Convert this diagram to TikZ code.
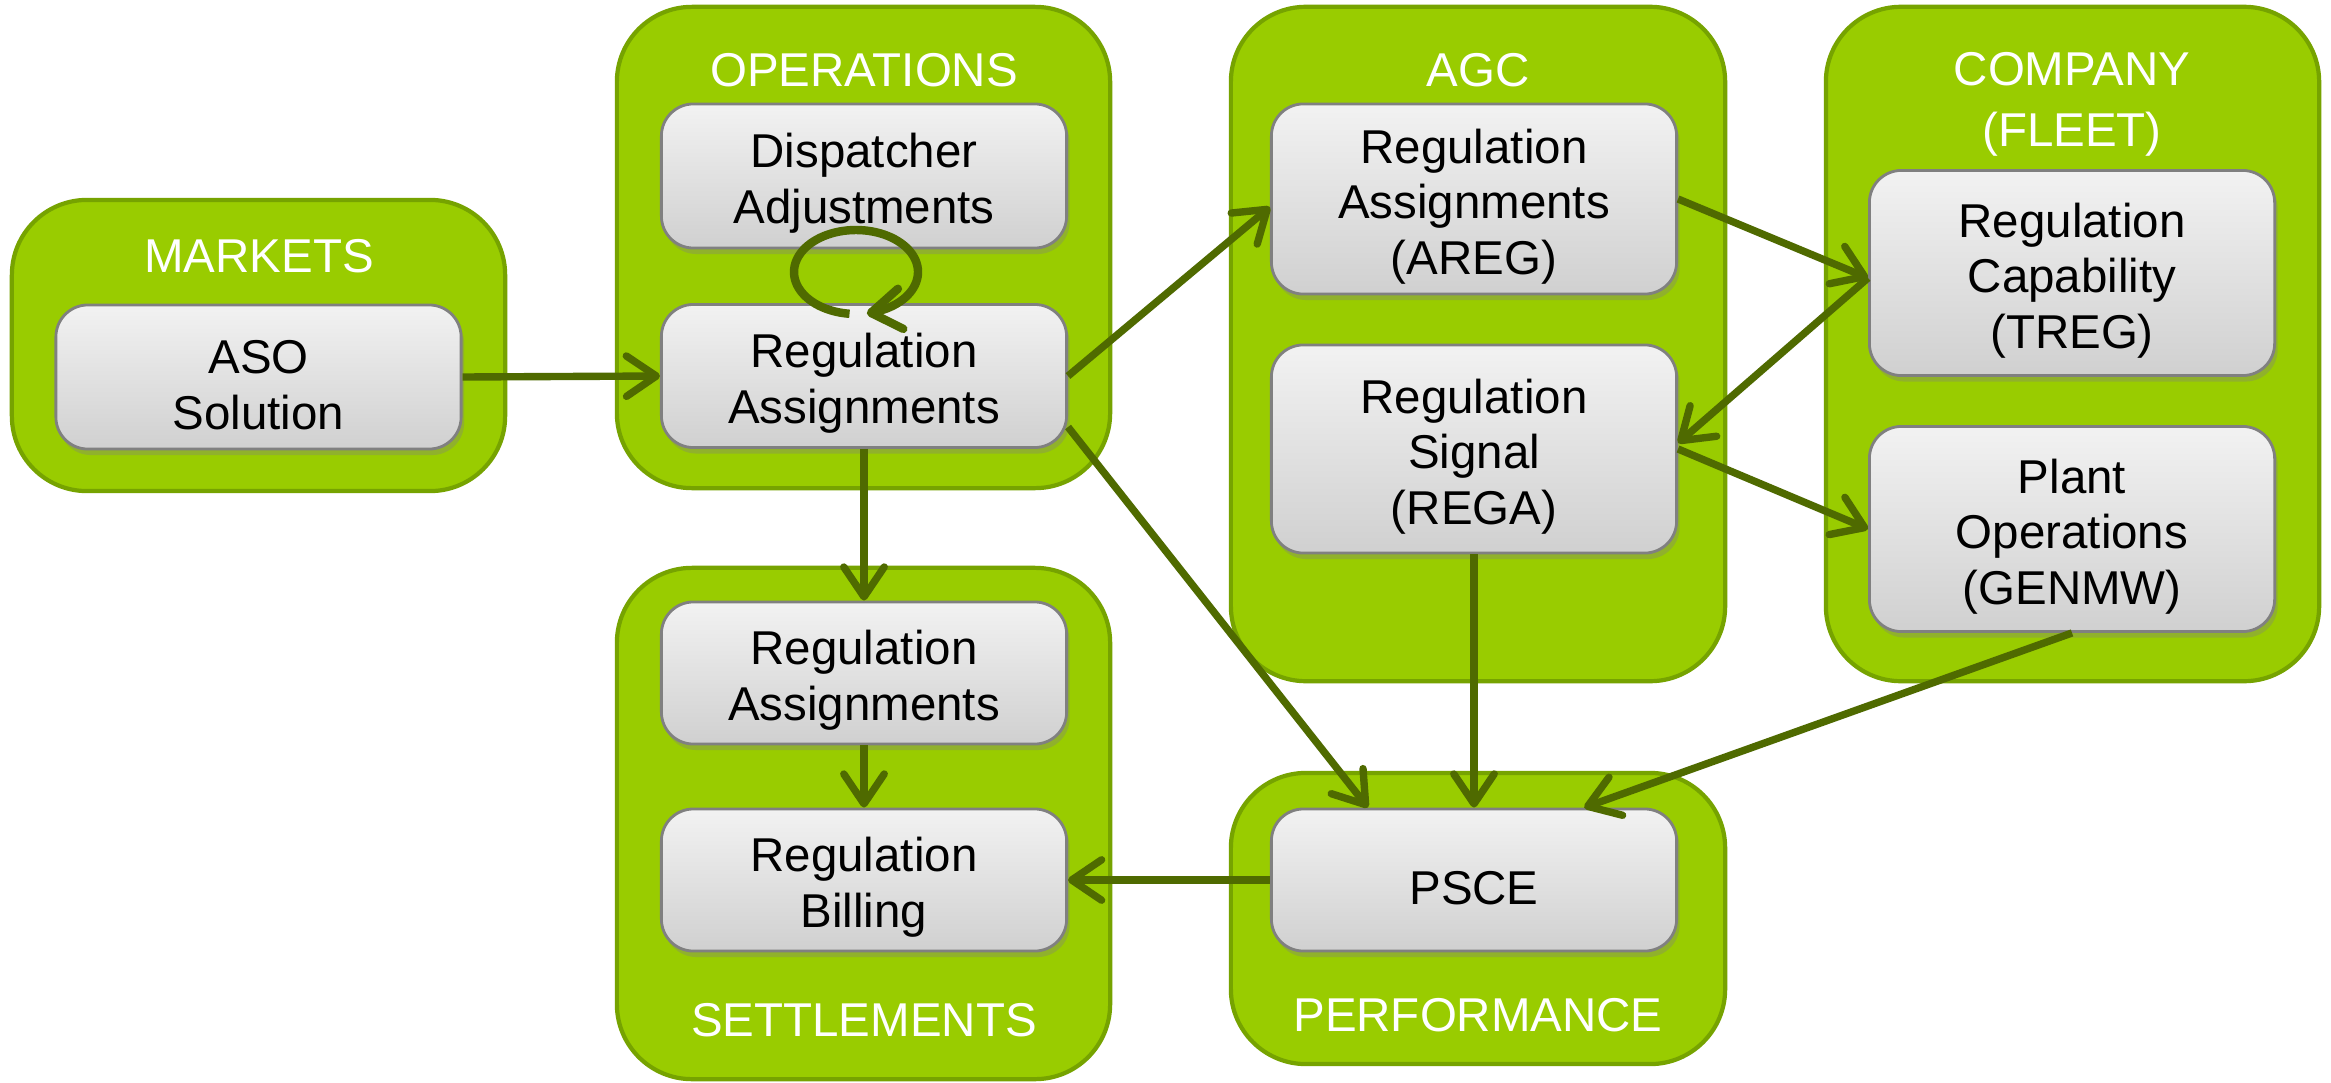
\documentclass[tikz,border=0pt]{standalone}
\usepackage{fontspec}
\setmainfont{Liberation Sans}
\usetikzlibrary{arrows.meta,shadows,calc}
\definecolor{grpfill}{RGB}{153,204,0}
\definecolor{grpline}{RGB}{118,163,0}
\definecolor{arrcol}{RGB}{79,106,0}
\definecolor{boxtop}{RGB}{242,242,242}
\definecolor{boxbot}{RGB}{208,208,208}
\definecolor{boxline}{RGB}{128,128,128}
\newcommand{\toppad}{\rule{0pt}{14pt}}
\begin{document}
\begin{tikzpicture}[x=0.01cm,y=-0.01cm,
  group/.style={draw=grpline, line width=1.2pt, fill=grpfill, rounded corners=0.75cm, inner sep=0pt},
  item/.style={draw=boxline, line width=0.8pt, top color=boxtop, bottom color=boxbot,
    rounded corners=0.32cm, align=center, inner sep=0pt, minimum width=4.05cm,
    font=\fontsize{13.5}{15.8}\selectfont, text=black,
    drop shadow={opacity=0.35, shadow xshift=0.03cm, shadow yshift=-0.06cm}},
  title/.style={text=white, font=\fontsize{13.5}{17.4}\selectfont, align=center, inner sep=0pt},
  flow/.style={draw=arrcol, line width=2.1pt,
    -{Straight Barb[length=8.5pt,width=11.5pt,line cap=round,line join=round]}},
]
\useasboundingbox (0,0) rectangle (2331,1082);
\fill[white] (0,0) rectangle (2331,1082);

% groups
\node[group, minimum width=4.93cm, minimum height=2.91cm] (gmarkets) at (258.5,345.5) {};
\node[group, minimum width=4.93cm, minimum height=4.81cm] (gops) at (863.5,247.5) {};
\node[group, minimum width=4.94cm, minimum height=6.74cm] (gagc) at (1478,344) {};
\node[group, minimum width=4.93cm, minimum height=6.74cm] (gcomp) at (2072.5,344) {};
\node[group, minimum width=4.93cm, minimum height=5.11cm] (gsett) at (863.5,823.5) {};
\node[group, minimum width=4.94cm, minimum height=2.91cm] (gperf) at (1478,918.5) {};

% titles
\node[title] (tmarkets) at (259,256) {MARKETS};
\node[title] (tops) at (864,70) {OPERATIONS};
\node[title] (tagc) at (1478,70) {AGC};
\node[title] (tcomp) at (2072,104) {COMPANY\\(FLEET)};
\node[title] (tsett) at (864,1020) {SETTLEMENTS};
\node[title] (tperf) at (1478,1015) {PERFORMANCE};

% items
\node[item, minimum height=1.44cm] (aso) at (258.5,377) {\toppad ASO\\Solution};
\node[item, minimum height=1.44cm] (disp) at (864,176) {\toppad Dispatcher\\Adjustments};
\node[item, minimum height=1.43cm] (opsra) at (864,376) {\toppad Regulation\\Assignments};
\node[item, minimum height=1.90cm] (areg) at (1474,199) {\toppad Regulation\\Assignments\\(AREG)};
\node[item, minimum height=2.08cm] (rega) at (1474,449) {\toppad Regulation\\Signal\\(REGA)};
\node[item, minimum height=2.05cm] (treg) at (2072,273) {\toppad Regulation\\Capability\\(TREG)};
\node[item, minimum height=2.05cm] (genmw) at (2072,529) {\toppad Plant\\Operations\\(GENMW)};
\node[item, minimum height=1.42cm] (setra) at (864,673) {\toppad Regulation\\Assignments};
\node[item, minimum height=1.42cm] (bill) at (864,880) {\toppad Regulation\\Billing};
\node[item, minimum height=1.42cm] (psce) at (1474,880) {\toppad PSCE};

% connectors
\draw[flow] (aso.east) -- (opsra.west);
\draw[flow] (opsra.east) -- ($(areg.west)+(0,8)$);
\draw[flow] ($(opsra.east)+(0,51)$) -- ($(psce.north west)!0.24!(psce.north east)$);
\draw[flow] (opsra.south) -- (setra.north);
\draw[flow] (setra.south) -- (bill.north);
\draw[flow] (psce.west) -- (bill.east);
\draw[flow] (areg.east) -- ($(treg.west)+(0,5)$);
\draw[flow] ($(treg.west)+(0,5)$) -- ($(rega.east)+(0,-6)$);
\draw[flow] (rega.east) -- (genmw.west);
\draw[flow] (rega.south) -- (psce.north);
\draw[flow] (genmw.south) -- ($(psce.north west)!0.77!(psce.north east)$);

% self loop on the dispatcher adjustments
\draw[flow, line width=2.4pt] plot[domain=96:440, samples=90, smooth, variable=\t]
  ({856+62*cos(\t)},{272+42*sin(\t)});
\end{tikzpicture}
\end{document}
